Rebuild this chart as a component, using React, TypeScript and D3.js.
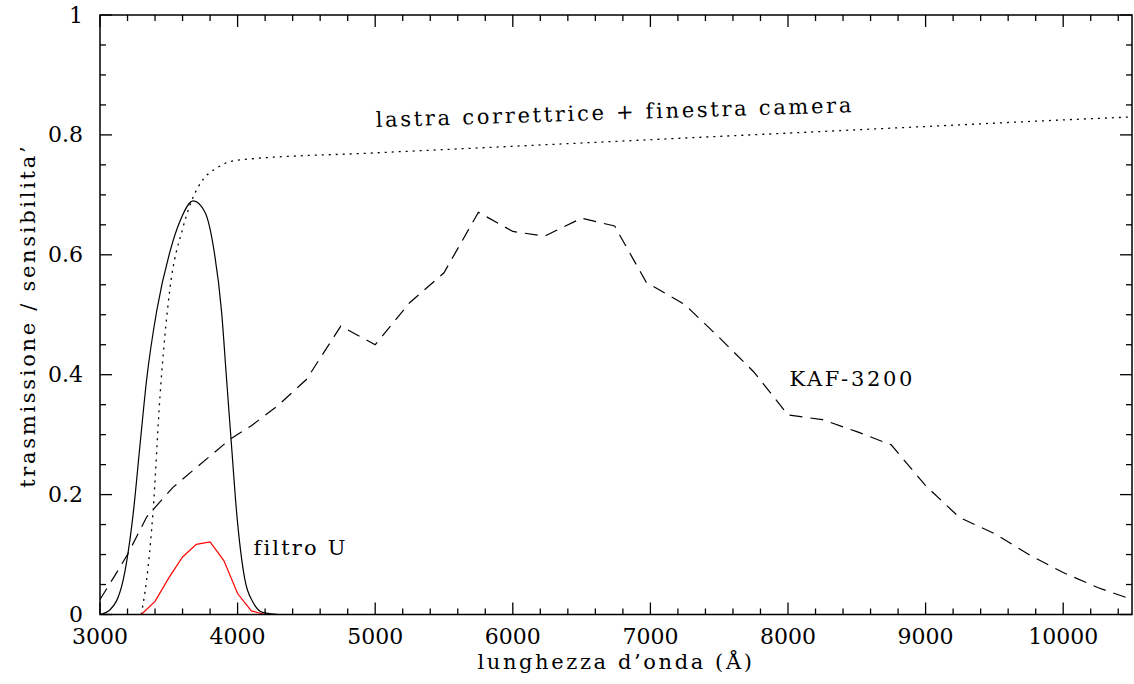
import React, { useEffect, useRef } from "react";
import * as d3 from "d3";

// KAF-3200 quantum efficiency (dashed)
const kafWave = [3000, 3100, 3200, 3340, 3530, 3700, 3944, 4100, 4285, 4500, 4750, 5000, 5250, 5500, 5750, 6000, 6230, 6500, 6740, 6970, 7250, 7500, 7750, 8000, 8250, 8500, 8750, 9000, 9245, 9500, 9750, 10000, 10250, 10500];
const kafValue = [0.025, 0.062, 0.1, 0.163, 0.212, 0.245, 0.292, 0.315, 0.347, 0.392, 0.481, 0.45, 0.52, 0.57, 0.671, 0.639, 0.631, 0.661, 0.648, 0.554, 0.517, 0.462, 0.405, 0.333, 0.325, 0.305, 0.283, 0.215, 0.162, 0.135, 0.1, 0.07, 0.045, 0.025];

// corrector plate + camera window (dotted)
const plateWave = [3300, 3350, 3385, 3436, 3508, 3600, 3675, 3750, 3850, 4000, 5000, 6000, 7000, 8000, 9000, 10000, 10500];
const plateValue = [0, 0.08, 0.17, 0.364, 0.543, 0.643, 0.695, 0.726, 0.745, 0.758, 0.77, 0.781, 0.792, 0.803, 0.814, 0.825, 0.83];

// U filter (solid black)
const filterWave = [3000, 3073, 3169, 3211, 3242, 3290, 3339, 3411, 3508, 3581, 3678, 3763, 3823, 3884, 3920, 3956, 3993, 4053, 4113, 4186, 4300, 10500];
const filterValue = [0, 0.008, 0.058, 0.114, 0.17, 0.281, 0.392, 0.505, 0.605, 0.656, 0.69, 0.671, 0.615, 0.504, 0.392, 0.281, 0.17, 0.058, 0.02, 0.003, 0, 0];

// total response (red)
const totalWave = [3300, 3400, 3500, 3600, 3700, 3800, 3900, 4000, 4100, 4200, 10300];
const totalValue = [0, 0.022, 0.061, 0.096, 0.117, 0.121, 0.09, 0.035, 0.006, 0, 0];

const xTicks = [3000, 4000, 5000, 6000, 7000, 8000, 9000, 10000];
const yTicks = [0, 0.2, 0.4, 0.6, 0.8, 1];

const FONT = "'DejaVu Serif', serif";

export default function App() {
  const ref = useRef<SVGSVGElement>(null);

  useEffect(() => {
    const svgWidth = 1134, svgHeight = 684;
    const margin = { top: 15, right: 2, bottom: 69.5, left: 100 };
    const width = svgWidth - margin.left - margin.right,
      height = svgHeight - margin.top - margin.bottom;

    const xScale = d3.scaleLinear().domain([3000, 10500]).range([0, width]);
    const yScale = d3.scaleLinear().domain([0, 1]).range([height, 0]);

    const root = d3.select(ref.current);
    root.selectAll("*").remove();
    const svg = root.append("g").attr("transform", `translate(${margin.left}, ${margin.top})`);

    const line = d3.line<[number, number]>()
      .x(d => xScale(d[0]))
      .y(d => yScale(d[1]));

    const zip = (a: number[], b: number[]) => a.map((w, i) => [w, b[i]] as [number, number]);

    // curves
    svg.append("path")
      .datum(zip(kafWave, kafValue))
      .attr("d", line)
      .attr("fill", "none").attr("stroke", "black").attr("stroke-width", 1.2)
      .attr("stroke-dasharray", "13 8");

    svg.append("path")
      .datum(zip(plateWave, plateValue))
      .attr("d", line.curve(d3.curveMonotoneX))
      .attr("fill", "none").attr("stroke", "black").attr("stroke-width", 1.3)
      .attr("stroke-dasharray", "2 5");

    svg.append("path")
      .datum(zip(filterWave, filterValue))
      .attr("d", line.curve(d3.curveMonotoneX))
      .attr("fill", "none").attr("stroke", "black").attr("stroke-width", 1.2);

    svg.append("path")
      .datum(zip(totalWave, totalValue))
      .attr("d", line.curve(d3.curveLinear))
      .attr("fill", "none").attr("stroke", "#ff0000").attr("stroke-width", 1.2);

    // frame
    svg.append("rect")
      .attr("x", 0).attr("y", 0).attr("width", width).attr("height", height)
      .attr("fill", "none").attr("stroke", "black").attr("stroke-width", 1.5);

    // x ticks, bottom and top, pointing inward
    const xMinor = d3.range(3000, 10501, 200);
    xMinor.forEach(v => {
      const len = v % 1000 === 0 ? 12 : 6;
      const x = xScale(v);
      svg.append("line").attr("x1", x).attr("x2", x).attr("y1", height).attr("y2", height - len)
        .attr("stroke", "black").attr("stroke-width", 1.3);
      svg.append("line").attr("x1", x).attr("x2", x).attr("y1", 0).attr("y2", len)
        .attr("stroke", "black").attr("stroke-width", 1.3);
    });

    // y ticks, left and right
    const yMinor = d3.range(0, 21).map(i => i * 0.05);
    yMinor.forEach((v, i) => {
      const len = i % 4 === 0 ? 12 : 6;
      const y = yScale(v);
      svg.append("line").attr("x1", 0).attr("x2", len).attr("y1", y).attr("y2", y)
        .attr("stroke", "black").attr("stroke-width", 1.3);
      svg.append("line").attr("x1", width).attr("x2", width - len).attr("y1", y).attr("y2", y)
        .attr("stroke", "black").attr("stroke-width", 1.3);
    });

    // tick labels
    svg.selectAll(".xlab").data(xTicks).join("text")
      .attr("class", "xlab")
      .attr("x", d => xScale(d)).attr("y", height + 29)
      .attr("text-anchor", "middle")
      .style("font-family", FONT).style("font-size", "22px")
      .text(d => d);

    svg.selectAll(".ylab").data(yTicks).join("text")
      .attr("class", "ylab")
      .attr("x", -17).attr("y", d => yScale(d) + 7.5)
      .attr("text-anchor", "end")
      .style("font-family", FONT).style("font-size", "22px")
      .text(d => d);

    // axis titles
    svg.append("text")
      .attr("x", 516).attr("y", height + 54)
      .attr("text-anchor", "middle")
      .style("font-family", FONT).style("font-size", "21px").style("letter-spacing", "2.6px")
      .text("lunghezza d\u2019onda (\u00c5)");

    svg.append("text")
      .attr("transform", `translate(-65, ${yScale(0.5) + 1}) rotate(-90)`)
      .attr("text-anchor", "middle")
      .style("font-family", FONT).style("font-size", "21px").style("letter-spacing", "2.7px")
      .text("trasmissione / sensibilita\u2019");

    // curve labels
    svg.append("text")
      .attr("transform", `translate(${xScale(5005)}, ${yScale(0.813)}) rotate(-1.8)`)
      .style("font-family", FONT).style("font-size", "21px").style("letter-spacing", "2.7px")
      .text("lastra correttrice + finestra camera");

    svg.append("text")
      .attr("x", xScale(8010)).attr("y", yScale(0.381))
      .style("font-family", FONT).style("font-size", "21px").style("letter-spacing", "2.7px")
      .text("KAF-3200");

    svg.append("text")
      .attr("x", xScale(4115)).attr("y", yScale(0.1))
      .style("font-family", FONT).style("font-size", "21px").style("letter-spacing", "2.2px")
      .text("filtro U");
  }, []);

  return (
    <div>
      <svg ref={ref} width={1134} height={684}
        style={{ position: "absolute", left: 0, top: 0, background: "white" }} />
    </div>
  );
}
